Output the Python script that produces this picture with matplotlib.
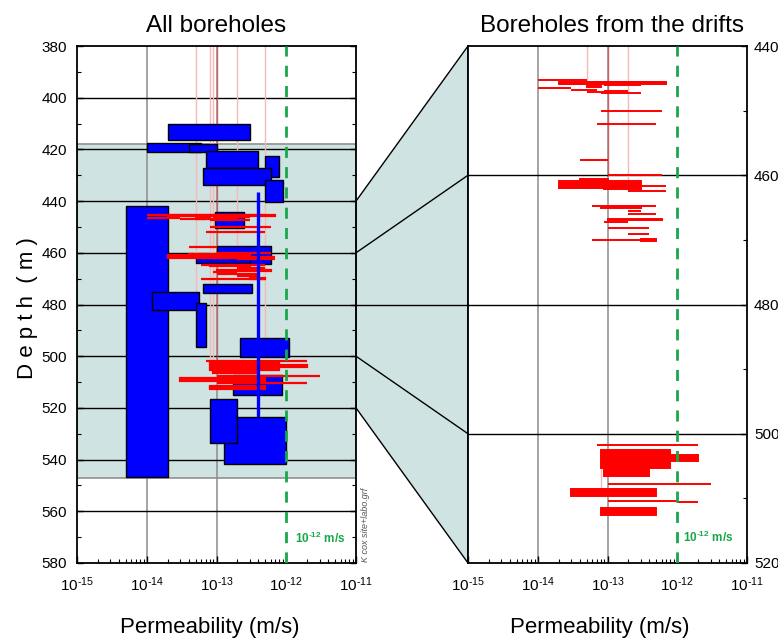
import matplotlib
matplotlib.use('Agg')
import math
import matplotlib.pyplot as plt
from matplotlib.patches import Polygon
from matplotlib.lines import Line2D
from matplotlib.ticker import FixedLocator, MultipleLocator, NullFormatter, FuncFormatter

plt.rcParams['font.family'] = ['Liberation Sans', 'DejaVu Sans']
plt.rcParams['mathtext.fontset'] = 'custom'
plt.rcParams['mathtext.rm'] = 'Liberation Sans'
plt.rcParams['mathtext.bf'] = 'Liberation Sans:bold'

# ---------------- data ----------------
titles = ["All boreholes", "Boreholes from the drifts"]
xlabel = "Permeability (m/s)"
ylabel = "D e p t h  ( m )"
ref_k = 1e-12
ref_label = "$\\mathdefault{10^{\u201012}}$ m/s"
file_note = "K cox site+labo.grf"

k_decades = [1e-15, 1e-14, 1e-13, 1e-12, 1e-11]
left_depth_ticks = [380, 400, 420, 440, 460, 480, 500, 520, 540, 560, 580]
right_depth_ticks = [440, 460, 480, 500, 520]
zoom_depths = [440, 460, 480, 500, 520]
shade_top, shade_bot = 417.8, 547.0

# blue: borehole test intervals (all boreholes)
blue_k_lo = [2e-14, 1e-14, 4e-14, 7e-14, 5e-13, 6.5e-14, 5e-13, 5e-15, 9.5e-14,
             1e-13, 5e-14, 6.5e-14, 1.2e-14, 5e-14, 2.2e-13, 1.7e-13, 1.3e-13, 8e-14]
blue_k_hi = [3e-13, 6e-14, 1e-13, 4e-13, 8e-13, 6e-13, 9e-13, 2e-14, 2.5e-13,
             6e-13, 3e-13, 3.2e-13, 5.7e-14, 7e-14, 1.1e-12, 8.6e-13, 1e-12, 2e-13]
blue_top = [410.3, 417.5, 418.0, 420.7, 422.5, 427.3, 432.0, 442.0, 444.3,
            457.5, 460.5, 472.0, 475.0, 479.5, 493.0, 507.3, 523.4, 516.6]
blue_bot = [416.5, 421.0, 421.0, 427.3, 430.8, 433.7, 440.3, 546.7, 450.3,
            464.4, 464.0, 475.7, 482.2, 496.4, 500.2, 514.9, 541.6, 533.7]
blue_line_k = 4e-13
blue_line_top, blue_line_bot = 436.6, 523.4

# red: drift borehole intervals
red_k_lo = [1e-14, 2e-14, 5e-14, 5e-14, 9e-14, 1e-14, 3e-14, 9e-14, 5e-14, 8e-14,
            8e-14, 7e-14, 4e-14,
            1e-13, 4e-14, 2e-14, 9e-14, 2e-13, 2e-13, 6e-14, 8e-14, 2e-13, 2e-13,
            1e-13, 9e-14, 1e-13, 2e-13, 6e-14, 3e-13,
            7e-14, 8e-14, 8e-13, 8.9e-14, 1e-13, 3e-14, 1e-13, 1e-12, 8e-14]
red_k_hi = [5e-14, 7e-13, 5e-13, 8e-14, 3e-13, 3e-14, 7e-14, 2e-13, 9e-14, 3e-13,
            6e-13, 5e-13, 1e-13,
            6e-13, 1e-13, 3e-13, 3e-13, 7e-13, 7e-13, 5e-13, 3e-13, 3e-13, 5e-13,
            6e-13, 2e-13, 4e-13, 4e-13, 5e-13, 5e-13,
            2e-12, 8e-13, 2e-12, 4e-13, 3e-12, 5e-13, 1e-12, 2e-12, 5e-13]
red_top = [445.3, 445.5, 445.5, 445.9, 446.1, 446.5, 446.8, 447.0, 447.1, 447.3,
           450.0, 452.0, 457.6,
           460.0, 460.6, 460.9, 461.8, 461.7, 462.4, 464.7, 464.9, 465.5, 466.0,
           466.7, 467.3, 468.1, 469.1, 470.0, 469.9,
           501.8, 502.5, 503.3, 505.5, 507.8, 508.5, 510.4, 510.5, 511.5]
red_bot = [445.3, 445.9, 445.5, 446.3, 446.1, 446.5, 446.8, 447.0, 447.1, 447.3,
           450.0, 452.0, 457.6,
           460.0, 461.0, 461.9, 462.2, 461.7, 462.4, 464.7, 465.1, 465.5, 466.0,
           466.9, 467.3, 468.1, 469.1, 470.0, 470.1,
           501.8, 505.3, 504.2, 506.6, 507.8, 509.6, 510.4, 510.5, 512.6]

# faint profile verticals
pink_k_left = [5e-14, 8.2e-14, 9e-14, 2e-13, 5e-13]
pink_top_left = [380, 380, 380, 380, 380]
pink_bot_left = [476, 502, 502, 465, 497]
redv_k_left, redv_top_left, redv_bot_left = 1e-13, 380, 502
pink_k_right = [5e-14, 2e-13, 8e-14]
pink_top_right = [440, 440, 502.5]
pink_bot_right = [446, 462.5, 508.5]
redv_k_right, redv_top_right, redv_bot_right = 1e-13, 440, 460

# ---------------- style ----------------
BLUE = '#0000ff'
RED = '#ff0000'
TEAL = '#cfe4e2'
GREEN = '#18a84a'
PINK = '#f4b8b8'
TICK_FS = 11

W, H = 778, 643
fig = plt.figure(figsize=(W / 100, H / 100), dpi=100)
ax1 = fig.add_axes([77 / W, 1 - 563 / H, 279 / W, 517 / H])
ax2 = fig.add_axes([468 / W, 1 - 563 / H, 279 / W, 517 / H])

minor_k = [m * d for d in k_decades[:-1] for m in range(2, 10)]


def pow_fmt(v, pos):
    e = int(round(math.log10(v)))
    sign = '\u2010' if e < 0 else ''
    return '$\\mathdefault{10^{' + sign + str(abs(e)) + '}}$'


def setup(ax, ylim, yticks, grid_depths, right_labels):
    ax.set_xscale('log')
    ax.set_xlim(k_decades[0], k_decades[-1])
    ax.set_ylim(ylim[1], ylim[0])
    ax.xaxis.set_major_locator(FixedLocator(k_decades))
    ax.xaxis.set_major_formatter(FuncFormatter(pow_fmt))
    ax.xaxis.set_minor_locator(FixedLocator(minor_k))
    ax.xaxis.set_minor_formatter(NullFormatter())
    ax.yaxis.set_major_locator(FixedLocator(yticks))
    ax.yaxis.set_minor_locator(MultipleLocator(10))
    ax.tick_params(axis='x', which='major', direction='in', length=5, width=1,
                   labelsize=TICK_FS, pad=9, top=False)
    ax.tick_params(axis='x', which='minor', direction='in', length=3, width=0.8, top=False)
    if right_labels:
        ax.tick_params(axis='y', which='both', direction='in', left=False, right=True,
                       labelleft=False, labelright=True, labelsize=TICK_FS, pad=5)
    else:
        ax.tick_params(axis='y', which='both', direction='in', left=True, right=True,
                       labelsize=TICK_FS, pad=7)
    ax.tick_params(axis='y', which='major', length=4, width=1)
    ax.tick_params(axis='y', which='minor', length=3, width=0.8)
    for s in ax.spines.values():
        s.set_linewidth(1.3)
    for d in grid_depths:
        ax.axhline(d, color='black', lw=1.0, zorder=1.5)
    for k in k_decades[1:3]:
        ax.axvline(k, color='#8c8c8c', lw=1.1, zorder=1.4)
    ax.axvline(ref_k, color=GREEN, lw=2.0, ls=(0, (4, 3.3)), zorder=6)


setup(ax1, (380, 580), left_depth_ticks, left_depth_ticks[1:-1], False)
setup(ax2, (440, 520), right_depth_ticks, right_depth_ticks[1:-1], True)

# shaded zone on the left
ax1.axhspan(shade_top, shade_bot, facecolor=TEAL, edgecolor='#909090', lw=1.2, zorder=0.5)

# faint verticals
for ax, ks, t, b, rk, rt, rb in [
        (ax1, pink_k_left, pink_top_left, pink_bot_left, redv_k_left, redv_top_left, redv_bot_left),
        (ax2, pink_k_right, pink_top_right, pink_bot_right, redv_k_right, redv_top_right, redv_bot_right)]:
    ax.vlines(ks, t, b, color=PINK, lw=1.0, zorder=2)
    ax.vlines([rk], [rt], [rb], color='#d85050', lw=1.0, alpha=0.8, zorder=2)

# blue intervals (left only)
for klo, khi, t, b in zip(blue_k_lo, blue_k_hi, blue_top, blue_bot):
    ax1.barh((t + b) / 2, khi - klo, left=klo, height=b - t, color=BLUE,
             edgecolor='black', lw=1.0, zorder=3)

# red intervals (both panels)
for ax, lw in ((ax1, 1.6), (ax2, 1.4)):
    for klo, khi, t, b in zip(red_k_lo, red_k_hi, red_top, red_bot):
        ax.barh((t + b) / 2, khi - klo, left=klo, height=b - t, color=RED,
                edgecolor=RED, lw=lw, zorder=4)

ax1.vlines([blue_line_k], [blue_line_top], [blue_line_bot], color=BLUE, lw=2.4, zorder=5)

# reference labels
ax1.text(1.33e-12, 570.3, ref_label, color=GREEN, fontsize=8.5, fontweight='bold',
         va='center', ha='left', zorder=7)
ax2.text(1.22e-12, 516.1, ref_label, color=GREEN, fontsize=8.5, fontweight='bold',
         va='center', ha='left', zorder=7)

# titles and labels
fig.text(216 / W, 1 - 26 / H, titles[0], fontsize=17.5, ha='center', va='center')
fig.text(612 / W, 1 - 26 / H, titles[1], fontsize=17.5, ha='center', va='center')
fig.text(210 / W, 1 - 627 / H, xlabel, fontsize=16, ha='center', va='center')
fig.text(600 / W, 1 - 627 / H, xlabel, fontsize=16, ha='center', va='center')
fig.text(27 / W, 1 - 308 / H, ylabel, fontsize=16, rotation=90, ha='center', va='center')
fig.text(366 / W, 1 - 562 / H, file_note, fontsize=6.5, style='italic', color='#555555',
         rotation=90, ha='center', va='bottom')

# connecting zoom polygon
fig.canvas.draw()
inv = fig.transFigure.inverted()


def fpt(ax, x, y):
    return inv.transform(ax.transData.transform((x, y)))


poly = [fpt(ax1, k_decades[-1], zoom_depths[0]), fpt(ax2, k_decades[0], zoom_depths[0]),
        fpt(ax2, k_decades[0], zoom_depths[-1]), fpt(ax1, k_decades[-1], zoom_depths[-1])]
fig.add_artist(Polygon(poly, closed=True, facecolor=TEAL, edgecolor='black', lw=1.0,
                       transform=fig.transFigure, zorder=0))
for d in zoom_depths[1:-1]:
    p1 = fpt(ax1, k_decades[-1], d)
    p2 = fpt(ax2, k_decades[0], d)
    fig.add_artist(Line2D([p1[0], p2[0]], [p1[1], p2[1]], color='black', lw=1.0,
                          transform=fig.transFigure))

fig.savefig('out.png', dpi=100)
